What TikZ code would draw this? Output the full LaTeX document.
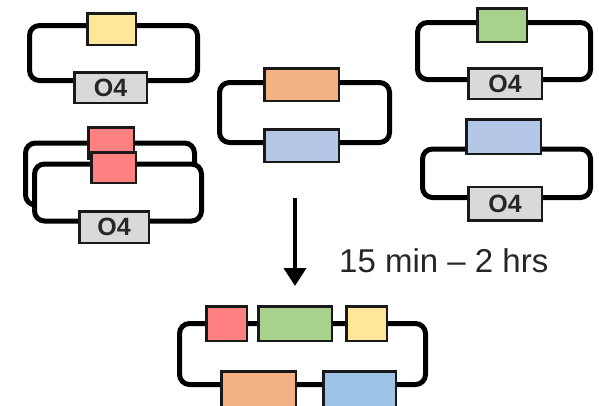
\documentclass[tikz,border=0pt]{standalone}
\usepackage{fontspec}
\setmainfont{Liberation Sans}
\usetikzlibrary{arrows.meta}
\definecolor{cyellow}{HTML}{FFE699}
\definecolor{cred}{HTML}{FF8080}
\definecolor{cgreen}{HTML}{A9D18E}
\definecolor{corange}{HTML}{F4B183}
\definecolor{cblue}{HTML}{B4C7E7}
\definecolor{cblued}{HTML}{9DC3E6}
\definecolor{cgray}{HTML}{D9D9D9}
\definecolor{ctext}{HTML}{262626}
\tikzset{
  ring/.style={draw=black, line width=5pt, rounded corners=10pt},
  part/.style={draw=black!90, line width=2.5pt, inner sep=0pt, text=ctext},
  ori/.style={part, fill=cgray, font=\bfseries\fontsize{25}{25}\selectfont},
}
% part box from outer edges: x1 x2 y1 y2
\newcommand\partbox[6]{%
  \node[#1, minimum width={#3-#2-2.5pt}, minimum height={#5-#4-2.5pt}]
    (#6) at ({(#2+#3)/2},{(#4+#5)/2}) {};}
\begin{document}
\begin{tikzpicture}[x=1pt,y=-1pt]
\useasboundingbox (0,0) rectangle (599,405);
\clip (0,0) rectangle (599,405);

% plasmid with yellow insert
\draw[ring] (29.5,25.5) rectangle (197.5,80.5);
\partbox{part,fill=cyellow}{86}{137}{12}{46}{yel}
\node[ori, minimum width=72.5pt, minimum height=30.5pt] (oA) at (110.5,87.5) {O4};

% double plasmid with red insert
\draw[ring] (25.5,143) rectangle (194.5,205);
\partbox{part,fill=cred}{87}{135}{126}{160}{redback}
\draw[ring, fill=white] (34.5,164) rectangle (201.5,221);
\partbox{part,fill=cred}{90}{137}{151}{184}{redfront}
\node[ori, minimum width=69.5pt, minimum height=31.5pt] (oB) at (114,227) {O4};

% central plasmid
\draw[ring] (219.5,82.5) rectangle (389.5,142.5);
\partbox{part,fill=corange}{263}{340}{67}{102}{orc}
\partbox{part,fill=cblue}{263}{340}{128}{163}{blc}

% plasmid with green insert
\draw[ring] (417.5,22.5) rectangle (590.5,79.5);
\partbox{part,fill=cgreen}{476}{528}{7}{43}{grn}
\node[ori, minimum width=73.5pt, minimum height=30.5pt] (oC) at (505,83.5) {O4};

% plasmid with blue insert
\draw[ring] (422.5,149) rectangle (590.5,197.5);
\partbox{part,fill=cblue}{465}{542}{118}{155}{blr}
\node[ori, minimum width=73.5pt, minimum height=33.5pt] (oD) at (505,203.5) {O4};

% assembly step
\coordinate (arrS) at (295,198);
\coordinate (arrE) at (295,286);
\draw[line width=4pt, -{Triangle[width=22pt,length=18pt]}] (arrS) -- (arrE);
\node[anchor=base west, inner sep=0pt, text=ctext, font=\fontsize{33}{33}\selectfont]
  (time) at (339,272) {15 min -- 2 hrs};

% assembled plasmid
\draw[ring] (179.5,323.5) rectangle (425.5,384.5);
\partbox{part,fill=cred}{205}{248}{305}{342}{r2}
\partbox{part,fill=cgreen}{257}{333}{305}{342}{g2}
\partbox{part,fill=cyellow}{345}{388}{305}{342}{y2}
\partbox{part,fill=corange}{220}{297}{370}{412}{o2}
\partbox{part,fill=cblued}{322}{397}{370}{412}{b2}
\end{tikzpicture}
\end{document}
